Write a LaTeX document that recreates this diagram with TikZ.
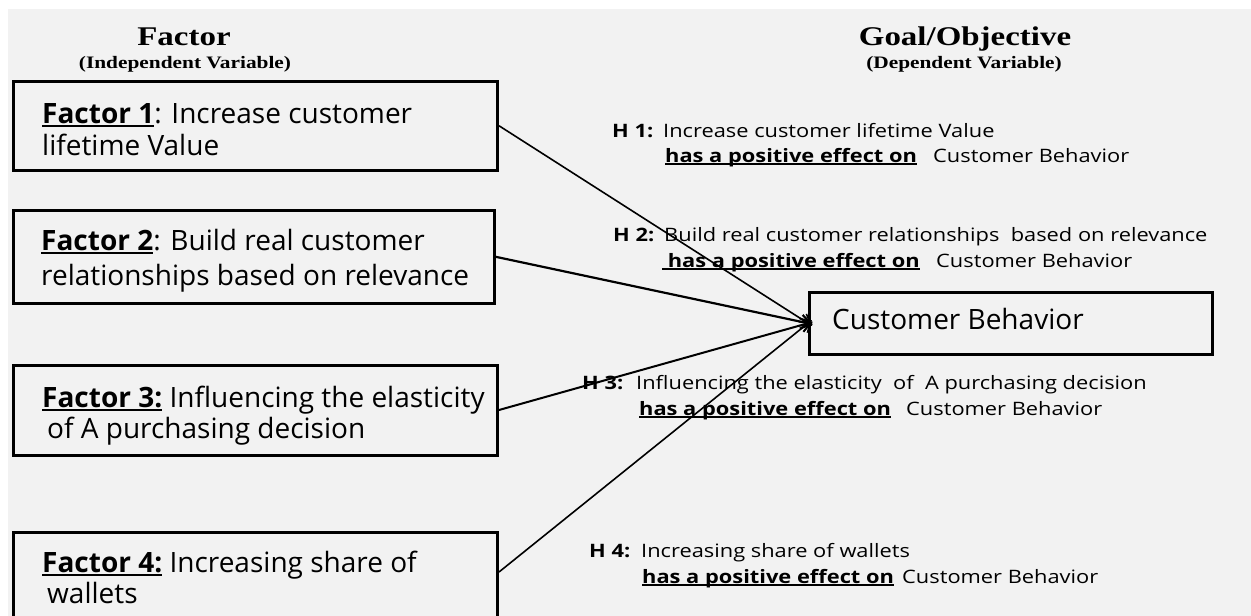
\documentclass[tikz,border=0pt]{standalone}
\usepackage{fontspec}
\setmainfont{Open Sans}
\newfontfamily\hypfont{Open Sans}[FakeStretch=1.18]
\newfontfamily\titlefont{Liberation Serif}[FakeStretch=1.22]
\usetikzlibrary{arrows.meta}
\definecolor{panel}{HTML}{F2F2F2}

% underlined phrase: #1 depth of the rule, #2 its thickness, #3 the text
\newsavebox\ulbox
\newcommand{\ulined}[3]{\sbox\ulbox{#3}\rlap{\rule[-#1]{\wd\ulbox}{#2}}\usebox\ulbox}

\tikzset{
  factorbox/.style={draw, line width=3pt, anchor=north west, inner sep=0pt},
  boxtext/.style={anchor=base west, inner sep=0pt, font=\fontsize{28}{32}\selectfont},
  hyptext/.style={anchor=base west, inner sep=0pt, font=\hypfont\fontsize{18.5}{22}\selectfont},
  hypbold/.style={hyptext, font=\hypfont\fontsize{18.5}{22}\selectfont\bfseries},
  titletext/.style={anchor=base, inner sep=0pt, font=\titlefont\bfseries\fontsize{27}{30}\selectfont},
  subtitletext/.style={anchor=base, inner sep=0pt, font=\titlefont\bfseries\fontsize{17.5}{20}\selectfont},
  conn/.style={line width=1.8pt, -{Straight Barb[length=10pt,width=14pt]}, shorten >=-5pt}
}

\begin{document}
\begin{tikzpicture}[x=1pt,y=-1pt]
\useasboundingbox (0,0) rectangle (1251,616);
\fill[white] (0,0) rectangle (1251,616);
\fill[panel] (8,9) rectangle (1251,616);

% column headings
\node[titletext] (tfactor) at (184,45) {Factor};
\node[subtitletext] (tfactorsub) at (185,68) {(Independent Variable)};
\node[titletext] (tgoal) at (965,45) {Goal/Objective};
\node[subtitletext] (tgoalsub) at (964,68) {(Dependent Variable)};

% factor boxes
\begin{scope}
\clip (0,0) rectangle (1251,616);
\node[factorbox, minimum width=484.5pt, minimum height=89.5pt] (f1) at (11.5,79.5) {};
\node[factorbox, minimum width=481pt, minimum height=93.5pt] (f2) at (11.5,208.5) {};
\node[factorbox, minimum width=484.5pt, minimum height=90pt] (f3) at (11.5,363.5) {};
\node[factorbox, minimum width=484.5pt, minimum height=120pt] (f4) at (11.5,530.5) {};
\end{scope}
\coordinate (f4out) at ([yshift=-41.5pt]f4.north east);

\node[boxtext] (f1a) at (42,123) {\ulined{4pt}{2.5pt}{\bfseries Factor 1}: Increase customer};
\node[boxtext] (f1b) at (42,155) {lifetime Value};
\node[boxtext] (f2a) at (41,250) {\ulined{4pt}{2.5pt}{\bfseries Factor 2}: Build real customer};
\node[boxtext] (f2b) at (41,285) {relationships based on relevance};
\node[boxtext] (f3a) at (42,407) {\ulined{4pt}{2.5pt}{\bfseries Factor 3:} Influencing the elasticity};
\node[boxtext] (f3b) at (47,438) {of A purchasing decision};
\node[boxtext] (f4a) at (42,572) {\ulined{4pt}{2.5pt}{\bfseries Factor 4:} Increasing share of};
\node[boxtext] (f4b) at (47,603) {wallets};

% dependent variable
\node[factorbox, minimum width=403pt, minimum height=62.5pt] (cb) at (808,290.5) {};
\node[boxtext] (cbtext) at (832,329) {Customer Behavior};

% hypotheses
\node[hypbold] (h1) at (612,137) {H 1:};
\node[hyptext] (h1a) at (663,137) {Increase customer lifetime Value};
\node[hypbold] (h1b) at (665,162) {\ulined{3pt}{1.6pt}{has a positive effect on}};
\node[hyptext] (h1c) at (933,162) {Customer Behavior};

\node[hypbold] (h2) at (613,241) {H 2:};
\node[hyptext] (h2a) at (664,241) {Build real customer relationships\ \ based on relevance};
\node[hypbold] (h2b) at (662,267) {\ulined{3pt}{1.6pt}{\ has a positive effect on}};
\node[hyptext] (h2c) at (936,267) {Customer Behavior};

\node[hypbold] (h3) at (582,389) {H 3:};
\node[hyptext] (h3a) at (636,389) {Influencing the elasticity\ \ of\ \ A purchasing decision};
\node[hypbold] (h3b) at (639,415) {\ulined{3pt}{1.6pt}{has a positive effect on}};
\node[hyptext] (h3c) at (906,415) {Customer Behavior};

\node[hypbold] (h4) at (589,557) {H 4:};
\node[hyptext] (h4a) at (641,557) {Increasing share of wallets};
\node[hypbold] (h4b) at (642,583) {\ulined{3pt}{1.6pt}{has a positive effect on}};
\node[hyptext] (h4c) at (902,583) {Customer Behavior};

% effects
\draw[conn, line width=1.6pt] (f1.east) -- (cb.west);
\draw[conn, line width=2.2pt] (f2.east) -- (cb.west);
\draw[conn, line width=2pt] (f3.east) -- (cb.west);
\draw[conn, line width=1.6pt] (f4out) -- (cb.west);
\end{tikzpicture}
\end{document}
